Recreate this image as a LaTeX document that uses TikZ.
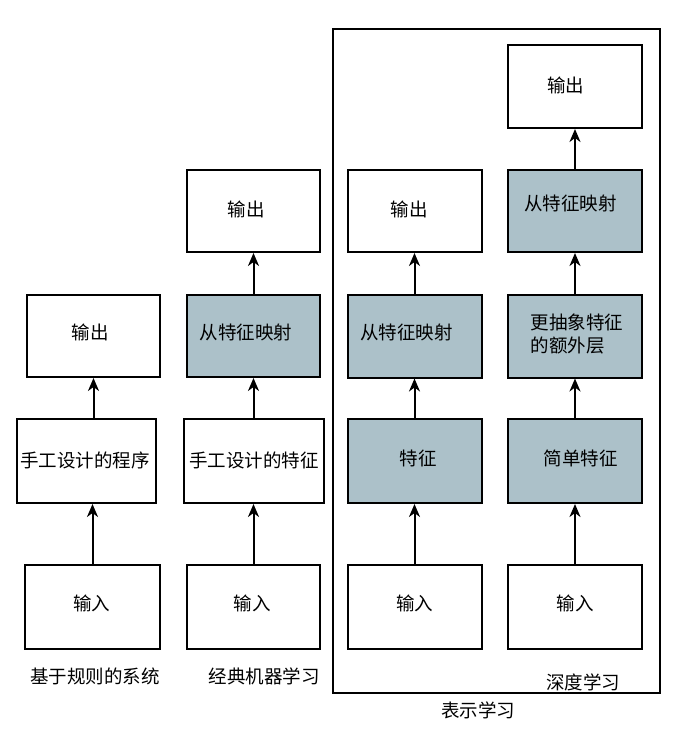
\documentclass[tikz,border=0pt]{standalone}
\usepackage{fontspec}
\setmainfont{Noto Sans CJK SC}
\usetikzlibrary{arrows.meta,calc}
\definecolor{featfill}{RGB}{172,193,201}
\tikzset{
  box/.style={draw=black, line width=2pt, fill=white, inner sep=0pt},
  feat/.style={box, fill=featfill},
  lbl/.style={inner sep=0pt, align=left, font=\fontsize{18.5}{23}\selectfont},
  say/.style n args={3}{label={[lbl,xshift=#1pt,yshift=#2pt]center:{#3}}},
  arr/.style={line width=2pt, -{Stealth[length=13pt,width=11pt,inset=4pt]}},
  captxt/.style={inner sep=0pt, font=\fontsize{18.5}{23}\selectfont}
}
\begin{document}
\begin{tikzpicture}[x=1pt,y=-1pt]
\useasboundingbox (0,0) rectangle (687,738);
% outer frame
\node[draw=black, line width=2pt, minimum width=327pt, minimum height=664pt, inner sep=0pt] (frame) at (496.5,361) {};
% column 1
\node[box, minimum width=133pt, minimum height=82pt, say={-3.5}{4}{输出}] (o1) at (93.5,336) {};
\node[box, minimum width=139pt, minimum height=84pt, say={-1.5}{1}{手工设计的程序}] (p1) at (86.5,461) {};
\node[box, minimum width=135pt, minimum height=84pt, say={-1}{4}{输入}] (i1) at (92.5,607) {};
% column 2
\node[box, minimum width=133pt, minimum height=82pt, say={-7.5}{2}{输出}] (o2) at (253.5,211) {};
\node[feat, minimum width=133pt, minimum height=82pt, say={-7.5}{4}{从特征映射}] (m2) at (253.5,336) {};
\node[box, minimum width=140pt, minimum height=84pt, say={0}{1}{手工设计的特征}] (f2) at (254,461) {};
\node[box, minimum width=133pt, minimum height=84pt, say={-1.5}{4}{输入}] (i2) at (253.5,607) {};
% column 3
\node[box, minimum width=134pt, minimum height=82pt, say={-5.5}{2}{输出}] (o3) at (414.5,211) {};
\node[feat, minimum width=134pt, minimum height=83pt, say={-8}{4}{从特征映射}] (m3) at (414.5,336) {};
\node[feat, minimum width=134pt, minimum height=84pt, say={3.5}{3}{特征}] (f3) at (414.5,461) {};
\node[box, minimum width=134pt, minimum height=84pt, say={0}{4}{输入}] (i3) at (414.5,607) {};
% column 4
\node[box, minimum width=134pt, minimum height=83pt, say={-9.5}{1.5}{输出}] (o4) at (575,86.5) {};
\node[feat, minimum width=134pt, minimum height=82pt, say={-4.5}{8}{从特征映射}] (m4) at (575,211) {};
\node[feat, minimum width=134pt, minimum height=83pt, say={2}{2}{更抽象特征\\的额外层}] (a4) at (575,336) {};
\node[feat, minimum width=134pt, minimum height=84pt, say={5.5}{3}{简单特征}] (s4) at (575,461) {};
\node[box, minimum width=134pt, minimum height=84pt, say={0}{4}{输入}] (i4) at (575,607) {};
% arrows
\draw[arr] (i1.north) -- (i1.north |- p1.south);
\draw[arr] (o1.south |- p1.north) -- (o1.south);
\draw[arr] (i2.north) -- (i2.north |- f2.south);
\draw[arr] (m2.south |- f2.north) -- (m2.south);
\draw[arr] (m2.north) -- (o2.south);
\draw[arr] (i3.north) -- (f3.south);
\draw[arr] (f3.north) -- (m3.south);
\draw[arr] (m3.north) -- (o3.south);
\draw[arr] (i4.north) -- (s4.south);
\draw[arr] (s4.north) -- (a4.south);
\draw[arr] (a4.north) -- (m4.south);
\draw[arr] (m4.north) -- (o4.south);
% captions
\node[captxt] (c1) at (95,676) {基于规则的系统};
\node[captxt] (c2) at (264,676) {经典机器学习};
\node[captxt] (c4) at (583,682) {深度学习};
\node[captxt] (c3) at (478,710) {表示学习};
\end{tikzpicture}
\end{document}
